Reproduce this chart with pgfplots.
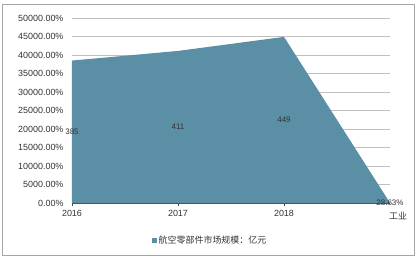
\documentclass[border=0pt]{standalone}
\usepackage{pgfplots}
\pgfplotsset{compat=1.18}
\usepackage{fontspec}
\setmainfont{Liberation Sans}
\newfontfamily\cjk{Noto Sans CJK SC}
\definecolor{areac}{HTML}{5A8FA6}
\definecolor{gridc}{HTML}{BFBFBF}
\definecolor{framec}{HTML}{A6A6A6}
\begin{document}
\begin{tikzpicture}[x=1bp,y=1bp]
\useasboundingbox (-72,-58) rectangle (347,203);
\draw[framec,line width=0.8bp] (-70,-52) rectangle (342,199);
\begin{axis}[
  at={(0,0)}, anchor=south west,
  scale only axis, width=318bp, height=185bp,
  xmin=0, xmax=3, ymin=0, ymax=50000,
  axis x line*=bottom, axis y line*=left,
  x axis line style={draw=black!70, line width=0.8bp, -},
  y axis line style={draw=none},
  xtick={0,1,2}, xticklabels={2016,2017,2018},
  xtick style={draw=black!70, line width=0.6bp},
  major tick length=3bp,
  xtick align=outside,
  ytick={0,5000,...,50000},
  yticklabels={0.00\%,5000.00\%,10000.00\%,15000.00\%,20000.00\%,25000.00\%,30000.00\%,35000.00\%,40000.00\%,45000.00\%,50000.00\%},
  ymajorgrids, grid style={gridc, line width=0.8bp},
  ytick style={draw=none},
  scaled y ticks=false,
  tick label style={font=\fontsize{9}{10}\selectfont, text=black!80},
  xticklabel style={yshift=-1bp},
  yticklabel style={xshift=-5bp},
  legend style={at={(0.434,-0.2)}, anchor=center, draw=none, fill=none, font=\cjk\fontsize{9}{10}\selectfont, text=black!80},
  legend image code/.code={\fill[areac] (0bp,-2.5bp) rectangle (5bp,2.5bp);},
  clip=false,
]
\addplot[fill=areac, draw=none] coordinates {(0,38500) (1,41100) (2,44900) (3,28.63)} \closedcycle;
\addlegendentry{航空零部件市场规模：亿元}
\node[font=\fontsize{8}{9}\selectfont, text=black!80] at (axis cs:0,19250) {385};
\node[font=\fontsize{8}{9}\selectfont, text=black!80] at (axis cs:1,20550) {411};
\node[font=\fontsize{8}{9}\selectfont, text=black!80] at (axis cs:2,22450) {449};
\node[font=\fontsize{8}{9}\selectfont, text=black!80, anchor=center] at (axis cs:3,28.63) {28.63\%};
\node[font=\cjk\fontsize{9}{10}\selectfont, text=black!80] at ([xshift=8bp,yshift=-13bp]axis cs:3,0) {工业};
\end{axis}
\end{tikzpicture}
\end{document}
